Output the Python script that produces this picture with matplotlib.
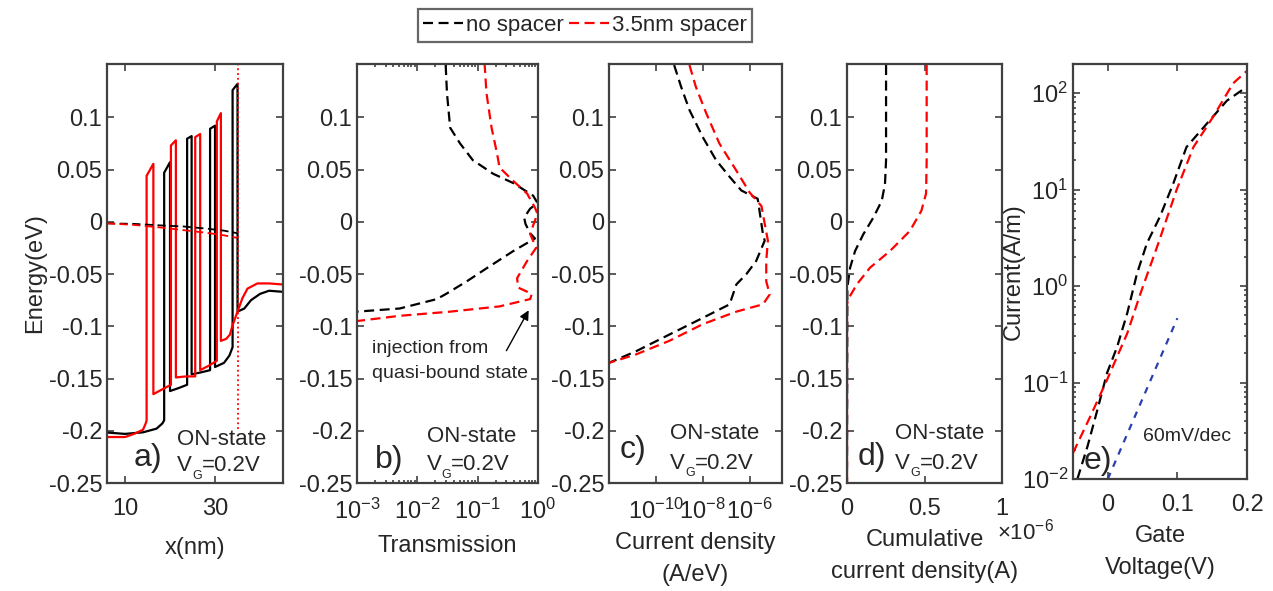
import numpy as np
import matplotlib
matplotlib.use('Agg')
import matplotlib.pyplot as plt
from matplotlib.ticker import NullLocator, LogLocator

plt.rcParams['font.family'] = ['Liberation Sans', 'DejaVu Sans']
plt.rcParams['mathtext.fontset'] = 'custom'
plt.rcParams['mathtext.rm'] = 'Liberation Sans'
plt.rcParams['mathtext.it'] = 'Liberation Sans:italic'
plt.rcParams['mathtext.default'] = 'regular'
plt.rcParams['axes.unicode_minus'] = False

# ---------------- data ----------------
# a) band profile, x in nm, energy in eV
xa_black = [6, 10, 14, 17, 18.3, 18.7, 18.7, 20.0, 20.0, 22, 23.8, 23.8, 24.8, 24.8, 27, 28.9, 28.9,
            30.0, 30.0, 32, 33.2, 33.9, 33.9, 35.0, 35.0, 36.5, 38, 40, 42, 45]
Ea_black = [-0.2017, -0.203, -0.2015, -0.198, -0.193, -0.190, 0.047, 0.057, -0.162, -0.159, -0.156, 0.0795,
            0.082, -0.146, -0.144, -0.142, 0.089, 0.092, -0.139, -0.135, -0.128, -0.120, 0.126, 0.132,
            -0.086, -0.083, -0.075, -0.069, -0.066, -0.067]
xa_red = [6, 10, 12, 14, 14.6, 14.8, 14.8, 16.3, 16.3, 18, 20.2, 20.2, 21.3, 21.3, 23.5, 25.6, 25.6,
          26.7, 26.7, 28.5, 30.4, 30.4, 31.3, 31.3, 32.5, 33.3, 33.9, 35.0, 36.1, 37.2, 39.4, 42, 45]
Ea_red = [-0.206, -0.206, -0.203, -0.199, -0.193, -0.190, 0.044, 0.0555, -0.165, -0.161, -0.156, 0.073,
          0.078, -0.149, -0.148, -0.148, 0.081, 0.084, -0.142, -0.138, -0.133, 0.096, 0.104, -0.114,
          -0.112, -0.108, -0.099, -0.086, -0.073, -0.064, -0.059, -0.059, -0.060]
xa_fermi = [6, 12, 18, 23, 28, 32, 35]
Ea_fermi_black = [-0.0015, -0.002, -0.0035, -0.0045, -0.0065, -0.0085, -0.011]
Ea_fermi_red = [-0.0015, -0.003, -0.0055, -0.008, -0.0105, -0.013, -0.0155]
x_dotted = 35.0

# b) transmission
Eb_black = [0.15, 0.123, 0.09, 0.075, 0.059, 0.046, 0.037, 0.025, 0.018, 0.0125, 0.004, -0.002,
            -0.011, -0.016, -0.028, -0.044, -0.057, -0.069, -0.074, -0.083, -0.086]
T_black = [0.0295, 0.031, 0.035, 0.051, 0.083, 0.18, 0.39, 0.83, 0.98, 0.74, 0.59, 0.62,
           0.74, 0.89, 0.39, 0.145, 0.066, 0.030, 0.021, 0.0051, 0.001]
Eb_red = [0.152, 0.123, 0.09, 0.065, 0.052, 0.039, 0.027, 0.0135, 0.0077, -0.0115, -0.025, -0.0375,
          -0.054, -0.063, -0.069, -0.074, -0.081, -0.086, -0.09, -0.095]
T_red = [0.13, 0.14, 0.17, 0.21, 0.23, 0.39, 0.66, 0.89, 0.98, 0.74, 0.93, 0.66,
         0.45, 0.47, 0.79, 0.74, 0.23, 0.035, 0.0051, 0.001]

# c) current density (A/eV)
Ec_black = [0.15, 0.129, 0.107, 0.081, 0.059, 0.043, 0.030, 0.022, 0.014, -0.012, -0.018, -0.0375,
            -0.05, -0.06, -0.079, -0.092, -0.108, -0.124, -0.135]
J_black = [6.0e-10, 1.2e-9, 2.7e-9, 1.0e-8, 3.7e-8, 1.4e-7, 4.4e-7, 2.2e-6, 2.5e-6, 3.7e-6, 4.4e-6, 1.9e-6,
           7.3e-7, 2.7e-7, 1.4e-7, 1.0e-8, 3.7e-10, 1.4e-11, 1.0e-12]
Ec_red = [0.15, 0.129, 0.104, 0.075, 0.049, 0.028, 0.015, -0.002, -0.018, -0.0375, -0.057, -0.0695,
          -0.079, -0.086, -0.098, -0.114, -0.127, -0.135]
J_red = [2.7e-9, 5.1e-9, 1.4e-8, 5.1e-8, 2.7e-7, 1.0e-6, 3.2e-6, 4.4e-6, 6.0e-6, 5.1e-6, 5.1e-6, 7.2e-6,
         3.7e-6, 2.7e-7, 1.0e-8, 3.7e-10, 1.4e-11, 1.0e-12]

# d) cumulative current density (x1e-6 A)
Ed_black = [0.15, 0.059, 0.036, 0.020, 0.004, -0.012, -0.028, -0.044, -0.063, -0.25]
Jc_black = [0.252, 0.252, 0.245, 0.224, 0.17, 0.105, 0.052, 0.02, 0.002, 0.0]
Ed_red = [0.15, 0.059, 0.027, 0.0106, -0.0087, -0.028, -0.044, -0.06, -0.074, -0.079, -0.25]
Jc_red = [0.514, 0.514, 0.51, 0.48, 0.406, 0.277, 0.148, 0.063, 0.008, 0.0, 0.0]

# e) transfer characteristic
Vg_black = [-0.0437, -0.029, -0.015, -0.001, 0.0134, 0.028, 0.042, 0.056, 0.075, 0.094, 0.113, 0.142, 0.171, 0.199]
I_black = [0.01, 0.022, 0.052, 0.126, 0.234, 0.525, 1.35, 2.75, 5.25, 11.5, 27.5, 47.9, 83.2, 115]
Vg_red = [-0.05, -0.025, -0.001, 0.028, 0.047, 0.071, 0.099, 0.123, 0.151, 0.18, 0.2]
I_red = [0.0186, 0.0447, 0.107, 0.324, 0.84, 2.57, 10.0, 27.5, 56.2, 126, 170]
Vg_ref = [0.0, 0.1]
I_ref = [0.01, 0.464]

E_ticks = [-0.25, -0.2, -0.15, -0.1, -0.05, 0, 0.05, 0.1]
E_ticklabels = ['-0.25', '-0.2', '-0.15', '-0.1', '-0.05', '0', '0.05', '0.1']

# ---------------- figure ----------------
W, H = 1273, 591
fig = plt.figure(figsize=(W / 100, H / 100), dpi=100)

def box(l, r, t, b):
    return [l / W, 1 - b / H, (r - l) / W, (b - t) / H]

txt = '#262626'
edge = '#404040'
fs = 17
dash = (4.5, 2.5)
lw = 1.6

def style(ax):
    for s in ax.spines.values():
        s.set_linewidth(1.6)
        s.set_color(edge)
    ax.tick_params(which='both', direction='in', top=True, right=True, colors=edge,
                   labelcolor=txt, labelsize=fs, width=1.2)
    ax.tick_params(which='major', length=5)
    ax.tick_params(which='minor', length=2.5)
    ax.tick_params(axis='x', which='both', pad=11)

def state_text(ax, letter, lx, ly, sx, sy1, sy2):
    ax.text(lx, ly, letter, transform=ax.transAxes, fontsize=23, color=txt, ha='center', va='center')
    ax.text(sx, sy1, 'ON-state', transform=ax.transAxes, fontsize=16, color=txt, ha='left', va='center')
    tv = ax.text(sx, sy2, 'V', transform=ax.transAxes, fontsize=16, color=txt, ha='left', va='center')
    tg = ax.annotate('G', xy=(1, 0), xycoords=tv, xytext=(0, -4), textcoords='offset points',
                     fontsize=9, color=txt, ha='left', va='bottom')
    ax.annotate('=0.2V', xy=(1, 0.5), xycoords=(tg, tv), fontsize=16, color=txt,
                ha='left', va='center')

# a)
ax1 = fig.add_axes(box(107, 283, 64, 483))
ax1.plot(xa_black, Ea_black, color='k', lw=lw)
ax1.plot(xa_red, Ea_red, color='red', lw=lw)
ax1.plot(xa_fermi, Ea_fermi_black, color='k', lw=1.3, ls='--', dashes=dash)
ax1.plot(xa_fermi, Ea_fermi_red, color='red', lw=1.3, ls='--', dashes=dash)
ax1.plot([x_dotted, x_dotted], [-0.198, 0.15], color='red', lw=1.3, ls=':')
ax1.set_xlim(6, 45.1)
ax1.set_ylim(-0.25, 0.151)
ax1.set_xticks([10, 30])
ax1.set_yticks(E_ticks)
ax1.set_yticklabels(E_ticklabels)
ax1.set_xlabel('x(nm)', fontsize=fs, color=txt, labelpad=12)
ax1.set_ylabel('Energy(eV)', fontsize=fs, color=txt, labelpad=2)
style(ax1)
state_text(ax1, 'a)', 0.233, 0.06, 0.40, 0.103, 0.041)

# b)
ax2 = fig.add_axes(box(357, 538, 64, 483))
l_black, = ax2.plot(T_black, Eb_black, color='k', lw=lw, ls='--', dashes=dash)
l_red, = ax2.plot(T_red, Eb_red, color='red', lw=lw, ls='--', dashes=dash)
ax2.set_xscale('log')
ax2.set_xlim(1e-3, 1)
ax2.set_ylim(-0.25, 0.151)
ax2.set_xticks([1e-3, 1e-2, 1e-1, 1])
ax2.xaxis.set_minor_locator(LogLocator(base=10, subs=np.arange(2, 10)))
ax2.set_yticks(E_ticks)
ax2.set_yticklabels(E_ticklabels)
ax2.set_xlabel('Transmission', fontsize=fs, color=txt, labelpad=8)
style(ax2)
state_text(ax2, 'b)', 0.18, 0.055, 0.385, 0.112, 0.043)
ax2.text(0.081, 0.321, 'injection from', transform=ax2.transAxes, fontsize=14, color=txt, va='center')
ax2.text(0.081, 0.262, 'quasi-bound state', transform=ax2.transAxes, fontsize=14, color=txt, va='center')
ax2.annotate('', xy=(0.956, 0.418), xytext=(0.818, 0.31), xycoords='axes fraction',
             arrowprops=dict(arrowstyle='-|>', color='k', lw=1.0, mutation_scale=14))

# c)
ax3 = fig.add_axes(box(609, 782, 64, 483))
ax3.plot(J_black, Ec_black, color='k', lw=lw, ls='--', dashes=dash)
ax3.plot(J_red, Ec_red, color='red', lw=lw, ls='--', dashes=dash)
ax3.set_xscale('log')
ax3.set_xlim(1e-12, 2.4e-5)
ax3.set_ylim(-0.25, 0.151)
ax3.set_xticks([1e-10, 1e-8, 1e-6])
ax3.xaxis.set_minor_locator(NullLocator())
ax3.set_yticks(E_ticks)
ax3.set_yticklabels(E_ticklabels)
ax3.set_xlabel('Current density\n(A/eV)', fontsize=fs, color=txt, labelpad=6, linespacing=1.6)
style(ax3)
state_text(ax3, 'c)', 0.14, 0.079, 0.353, 0.119, 0.047)

# d)
ax4 = fig.add_axes(box(847, 1002, 64, 483))
ax4.plot(Jc_black, Ed_black, color='k', lw=lw, ls='--', dashes=dash)
ax4.plot(Jc_red, Ed_red, color='red', lw=lw, ls='--', dashes=dash)
ax4.set_xlim(0, 1)
ax4.set_ylim(-0.25, 0.151)
ax4.set_xticks([0, 0.5, 1])
ax4.set_xticklabels(['0', '0.5', '1'])
ax4.set_yticks(E_ticks)
ax4.set_yticklabels(E_ticklabels)
ax4.set_xlabel('Cumulative\ncurrent density(A)', fontsize=fs, color=txt, labelpad=6, linespacing=1.6)
style(ax4)
state_text(ax4, 'd)', 0.159, 0.063, 0.31, 0.119, 0.047)
fig.text(1025 / W, 1 - 532 / H, '×10$^{-6}$', fontsize=16, color=txt, ha='center', va='center')

# e)
ax5 = fig.add_axes(box(1073, 1247, 64, 479))
ax5.plot(Vg_black, I_black, color='k', lw=lw, ls='--', dashes=dash)
ax5.plot(Vg_red, I_red, color='red', lw=lw, ls='--', dashes=dash)
ax5.plot(Vg_ref, I_ref, color='#2a3fb0', lw=lw, ls='--', dashes=(3, 3))
ax5.set_yscale('log')
ax5.set_xlim(-0.05, 0.2)
ax5.set_ylim(1e-2, 200)
ax5.set_xticks([0, 0.1, 0.2])
ax5.set_xticklabels(['0', '0.1', '0.2'])
ax5.set_yticks([1e-2, 1e-1, 1, 10, 100])
ax5.yaxis.set_minor_locator(LogLocator(base=10, subs=np.arange(2, 10)))
ax5.set_xlabel('Gate\nVoltage(V)', fontsize=fs, color=txt, labelpad=6, linespacing=1.6)
ax5.set_ylabel('Current(A/m)', fontsize=fs, color=txt, labelpad=-2)
style(ax5)
ax5.text(0.144, 0.043, 'e)', transform=ax5.transAxes, fontsize=23, color=txt, ha='center', va='center')
ax5.text(0.404, 0.102, '60mV/dec', transform=ax5.transAxes, fontsize=14, color=txt, va='center')

leg = fig.legend([l_black, l_red], ['no spacer', '3.5nm spacer'], loc='center',
                 bbox_to_anchor=(585 / W, 1 - 25.5 / H), ncol=2, fontsize=16, frameon=True,
                 fancybox=False, handlelength=1.8, handletextpad=0.15, columnspacing=0.2,
                 borderpad=0.25, borderaxespad=0)
leg.get_frame().set_edgecolor(edge)
leg.get_frame().set_linewidth(1.6)
for t in leg.get_texts():
    t.set_color(txt)

fig.savefig('out.png', dpi=100)
